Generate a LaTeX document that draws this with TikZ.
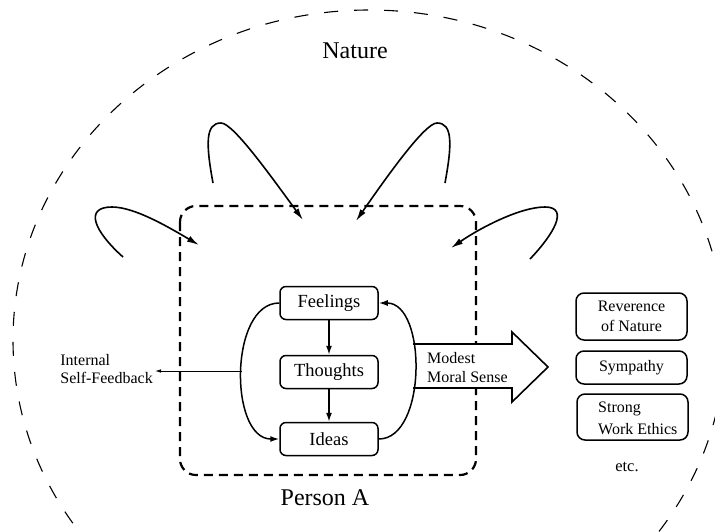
\documentclass[tikz,border=0pt]{standalone}
\usepackage{fontspec}
\setmainfont{Liberation Serif}
\usetikzlibrary{arrows.meta}
\begin{document}
\begin{tikzpicture}[x=1pt,y=-1pt,
  inbox/.style={draw, line width=1.5pt, rounded corners=6pt, minimum width=98pt, minimum height=33pt, inner sep=0pt, font=\fontsize{18.5}{20}\selectfont},
  rbox/.style={draw, line width=1.5pt, rounded corners=8pt, minimum width=111pt, inner sep=0pt, font=\fontsize{16}{20}\selectfont},
  conn/.style={line width=1.5pt, -{Latex[length=9pt,width=6pt]}},
  loopar/.style={line width=1.6pt, -{Latex[length=12pt,width=6.5pt]}},
  thinar/.style={line width=0.8pt, -{Latex[length=6pt,width=3.5pt]}},
  biglbl/.style={font=\fontsize{24}{26}\selectfont, inner sep=0pt},
  smalllbl/.style={align=left, inner sep=0pt, font=\fontsize{16}{18.5}\selectfont}
]
\useasboundingbox (0,0) rectangle (715,531);
% outer nature boundary
\begin{scope}
\clip (0,0) rectangle (715,531);
\draw[line width=1.1pt, dash pattern=on 14pt off 16pt] (369,340) ellipse [x radius=356pt, y radius=330pt];
\end{scope}
\node[biglbl] (nature) at (355,51) {Nature};

% person boundary
\draw[line width=2.2pt, dash pattern=on 9pt off 6pt, rounded corners=16pt] (180,206) rectangle (476,475);
\node[biglbl] (person) at (325,498) {Person A};

% big arrow
\fill[white] (413,344) -- (512,344) -- (512,332) -- (548,367) -- (512,402) -- (512,388) -- (413,388) -- cycle;
\draw[line width=1.6pt, line join=miter] (413,344) -- (512,344) -- (512,332) -- (548,367) -- (512,402) -- (512,388) -- (413,388);
\node[smalllbl, anchor=west, font=\fontsize{16}{19}\selectfont] (moral) at (427,368) {Modest\\Moral Sense};

% inner boxes
\node[inbox] (feel) at (329,303) {Feelings};
\node[inbox] (thou) at (329,372) {Thoughts};
\node[inbox] (idea) at (329,439) {Ideas};
\draw[conn] (feel) -- (thou);
\draw[conn] (thou) -- (idea);
\draw[conn] (feel.west) .. controls (229,303) and (229,439) .. coordinate[pos=0.5] (lm) (idea.west);
\draw[conn] (idea.east) .. controls (427,439) and (427,303) .. (feel.east);

% internal self-feedback
\node[smalllbl, anchor=east] (fb) at (153,369) {Internal\\Self-Feedback};
\draw[thinar] (lm) -- ([xshift=2pt]lm -| fb.east);

% feedback loops from nature
\coordinate (a0) at (213,183); \coordinate (a1) at (303,220);
\coordinate (c0) at (445,183); \coordinate (c1) at (356,221);
\coordinate (b0) at (123,257); \coordinate (b1) at (199,245);
\coordinate (d0) at (530,259); \coordinate (d1) at (451,248);
\draw[loopar] (a0) .. controls (206,145) and (205,123) .. (221,123) .. controls (233,123) and (270,175) .. (a1);
\draw[loopar] (c0) .. controls (452,145) and (453,123) .. (437,123) .. controls (425,123) and (388,175) .. (c1);
\draw[loopar] (b0) .. controls (95,232) and (83,207) .. (112,207) .. controls (135,207) and (170,228) .. (b1);
\draw[loopar] (d0) .. controls (553,235) and (570,207) .. (545,207) .. controls (520,207) and (480,228) .. (d1);

% outcomes
\node[rbox, minimum height=47pt, align=center] (rev) at (631.5,316.5) {Reverence\\of Nature};
\node[rbox, minimum height=33pt] (sym) at (631.5,367.5) {Sympathy};
\node[rbox, minimum height=46pt] (swe) at (632.5,417) {};
\node[smalllbl, anchor=west, font=\fontsize{16}{22}\selectfont] (swet) at (598,418) {Strong\\Work Ethics};
\node[inner sep=0pt, font=\fontsize{16.5}{18}\selectfont] (etc) at (627,467) {etc.};
\end{tikzpicture}
\end{document}
